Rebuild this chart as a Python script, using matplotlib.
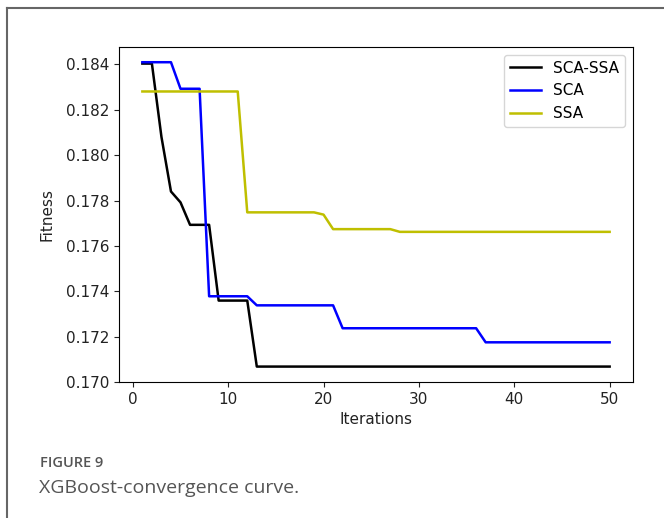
import numpy as np
import matplotlib
matplotlib.use("Agg")
import matplotlib.pyplot as plt
from matplotlib.lines import Line2D

iterations = np.arange(1, 51)

sca_ssa = [0.18404, 0.18404, 0.18081, 0.17840, 0.17792, 0.17693, 0.17693, 0.17693,
           0.17359, 0.17359, 0.17359, 0.17359,
           0.17068, 0.17068, 0.17068, 0.17068, 0.17068, 0.17068, 0.17068, 0.17068,
           0.17068, 0.17068, 0.17068, 0.17068, 0.17068, 0.17068, 0.17068, 0.17068,
           0.17068, 0.17068, 0.17068, 0.17068, 0.17068, 0.17068, 0.17068, 0.17068,
           0.17068, 0.17068, 0.17068, 0.17068, 0.17068, 0.17068, 0.17068, 0.17068,
           0.17068, 0.17068, 0.17068, 0.17068, 0.17068, 0.17068]

sca = [0.18410, 0.18410, 0.18410, 0.18410, 0.18293, 0.18293, 0.18293,
       0.17378, 0.17378, 0.17378, 0.17378, 0.17378,
       0.17338, 0.17338, 0.17338, 0.17338, 0.17338, 0.17338, 0.17338, 0.17338, 0.17338,
       0.17237, 0.17237, 0.17237, 0.17237, 0.17237, 0.17237, 0.17237, 0.17237,
       0.17237, 0.17237, 0.17237, 0.17237, 0.17237, 0.17237, 0.17237,
       0.17175, 0.17175, 0.17175, 0.17175, 0.17175, 0.17175, 0.17175, 0.17175,
       0.17175, 0.17175, 0.17175, 0.17175, 0.17175, 0.17175]

ssa = [0.18281, 0.18281, 0.18281, 0.18281, 0.18281, 0.18281, 0.18281, 0.18281,
       0.18281, 0.18281, 0.18281,
       0.17748, 0.17748, 0.17748, 0.17748, 0.17748, 0.17748, 0.17748, 0.17748,
       0.17738,
       0.17674, 0.17674, 0.17674, 0.17674, 0.17674, 0.17674, 0.17674,
       0.17662, 0.17662, 0.17662, 0.17662, 0.17662, 0.17662, 0.17662, 0.17662,
       0.17662, 0.17662, 0.17662, 0.17662, 0.17662, 0.17662, 0.17662, 0.17662,
       0.17662, 0.17662, 0.17662, 0.17662, 0.17662, 0.17662, 0.17662]

labels = ["SCA-SSA", "SCA", "SSA"]
colors = ["k", "b", "y"]

W, H = 664, 518
fig = plt.figure(figsize=(W / 100, H / 100), dpi=100)

# Cadre gris de la figure (bords gauche et haut)
fig.add_artist(Line2D([7 / W, 7 / W], [0, 1 - 8 / H], transform=fig.transFigure,
                      color="#666666", lw=1.5))
fig.add_artist(Line2D([7 / W, 1], [1 - 8 / H, 1 - 8 / H], transform=fig.transFigure,
                      color="#666666", lw=1.5))

ax = fig.add_axes([119 / W, 136 / H, (633 - 119) / W, (382 - 47) / H])

for serie, label, color in zip([sca_ssa, sca, ssa], labels, colors):
    ax.plot(iterations, serie, color=color, label=label, linewidth=1.8)

ax.set_yticks([0.170, 0.172, 0.174, 0.176, 0.178, 0.180, 0.182, 0.184])
ax.set_yticklabels([f"{v:.3f}" for v in ax.get_yticks()])
ax.set_xticks([0, 10, 20, 30, 40, 50])
ax.tick_params(labelsize=11, colors="#222222")
ax.set_xlabel("Iterations", fontsize=11, color="#222222", labelpad=4)
ax.set_ylabel("Fitness", fontsize=11, color="#222222", labelpad=8)
ax.legend(loc="upper right", fontsize=11)

# Légende de la figure
fig.text(40 / W, 1 - 467 / H, "FIGURE 9", family="Open Sans", fontsize=10.5,
         fontweight="semibold", color="#555555", va="baseline")
fig.text(39 / W, 1 - 493 / H, "XGBoost-convergence curve.", family="Open Sans",
         fontsize=14, color="#555555", va="baseline")

fig.savefig("out.png", dpi=100)
